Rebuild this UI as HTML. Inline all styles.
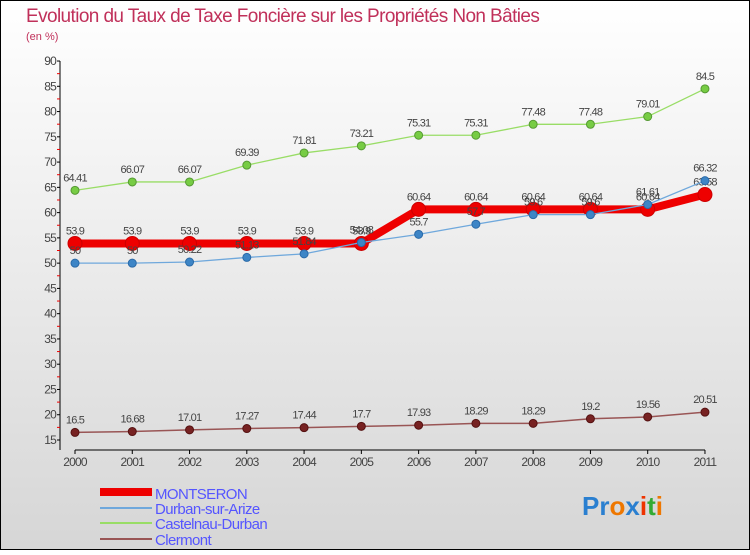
<!DOCTYPE html>
<html><head><meta charset="utf-8"><style>
html,body{margin:0;padding:0}
body{width:750px;height:550px;overflow:hidden;font-family:"Liberation Sans",sans-serif}
</style></head><body>
<svg width="750" height="550" xmlns="http://www.w3.org/2000/svg" id="svg">
<defs><linearGradient id="bg" x1="0" y1="0" x2="0" y2="1"><stop offset="0" stop-color="#ffffff"/><stop offset="1" stop-color="#d6d6d6"/></linearGradient></defs>
<rect x="0.5" y="0.5" width="749" height="549" fill="url(#bg)" stroke="#000"/>
<text x="26" y="22" font-size="19" fill="#c0305a" letter-spacing="-0.6">Evolution du Taux de Taxe Foncière sur les Propriétés Non Bâties</text>
<text x="26" y="40" font-size="11" fill="#c0305a">(en %)</text>
<g id="axes"></g>
<g id="series"></g>
<g id="legend">
<rect x="100" y="488" width="52" height="8" fill="#ee0000"/>
<text x="155" y="499" font-size="15" fill="#5555ff" letter-spacing="-0.6">MONTSERON</text>
<line x1="100" y1="508" x2="152" y2="508" stroke="#6fa8dc" stroke-width="2"/>
<text x="155" y="514" font-size="15" fill="#5555ff" letter-spacing="-0.6">Durban-sur-Arize</text>
<line x1="100" y1="523" x2="152" y2="523" stroke="#99dd66" stroke-width="2"/>
<text x="155" y="529" font-size="15" fill="#5555ff" letter-spacing="-0.6">Castelnau-Durban</text>
<line x1="100" y1="539" x2="152" y2="539" stroke="#955" stroke-width="2"/>
<text x="155" y="545" font-size="15" fill="#5555ff" letter-spacing="-0.6">Clermont</text>
</g>
<g font-size="26" font-weight="bold">
<text x="582" y="515"><tspan fill="#2a7fd0">Pr</tspan><tspan fill="#ee7700">o</tspan><tspan fill="#2a7fd0">x</tspan><tspan fill="#ee3300">i</tspan><tspan fill="#33aa33">t</tspan><tspan fill="#ee7700">i</tspan></text>
</g>
</svg>
<script>
const years=[2000,2001,2002,2003,2004,2005,2006,2007,2008,2009,2010,2011];
const montseron=[53.9,53.9,53.9,53.9,53.9,53.9,60.64,60.64,60.64,60.64,60.64,63.58];
const durban=[50,50,50.22,51.13,51.84,54.08,55.7,57.7,59.6,59.6,61.61,66.32];
const castelnau=[64.41,66.07,66.07,69.39,71.81,73.21,75.31,75.31,77.48,77.48,79.01,84.5];
const clermont=[16.5,16.68,17.01,17.27,17.44,17.7,17.93,18.29,18.29,19.2,19.56,20.51];
const yTicks=[15,20,25,30,35,40,45,50,55,60,65,70,75,80,85,90];
const NS="http://www.w3.org/2000/svg";
const X=i=>75+i*57.27;
const Y=v=>440-(v-15)*5.053;
function mk(tag,attrs,parent,txt){const e=document.createElementNS(NS,tag);for(const k in attrs)e.setAttribute(k,attrs[k]);if(txt!==undefined)e.textContent=txt;parent.appendChild(e);return e;}
const ax=document.getElementById('axes');
let l=mk('line',{x1:60,y1:Y(90),x2:60,y2:450,stroke:'#000'},ax);


l=mk('line',{x1:75,y1:450,x2:705,y2:450,stroke:'#000'},ax);


yTicks.forEach(v=>{
  mk('line',{x1:57,y1:Y(v),x2:60,y2:Y(v),stroke:'#000'},ax);
  if(v<90) mk('line',{x1:57,y1:Y(v+2.5),x2:60,y2:Y(v+2.5),stroke:'#e00'},ax);
  const t=mk('text',{x:56,y:Y(v)+4,'font-size':12,fill:'#444','text-anchor':'end','letter-spacing':'-0.8'},ax,String(v));
  
  
});
years.forEach((y,i)=>{
  mk('line',{x1:X(i),y1:450,x2:X(i),y2:454,stroke:'#000'},ax);
  const t=mk('text',{x:X(i),y:466,'font-size':12,fill:'#444','text-anchor':'middle','letter-spacing':'-0.8'},ax,String(y));
  
  
});
const sg=document.getElementById('series');
function series(name,vals,color,dot,w,r,stroke){
  const g=mk('g',{},sg);
  
  
  const p=mk('polyline',{points:vals.map((v,i)=>X(i)+','+Y(v)).join(' '),fill:'none',stroke:color,'stroke-width':w,'stroke-linejoin':'round'},g);
  
  
  vals.forEach((v,i)=>{
    const c=mk('circle',{cx:X(i),cy:Y(v),r:r,fill:dot,stroke:stroke,'stroke-width':1},g);
    
    
    const t=mk('text',{x:X(i),y:Y(v)-9,'font-size':11,fill:'#444','text-anchor':'middle','letter-spacing':'-0.8'},g,String(v));
    
    
  });
}
series('castelnau',castelnau,'#99dd66','#77cc44',1.3,4,'#559933');
series('clermont',clermont,'#995555','#772222',1.5,4,'#551111');
series('montseron',montseron,'#ee0000','#ee0000',8,7,'#cc0000');
series('durban',durban,'#6fa8dc','#3d85c6',1.3,4,'#2a6aa8');
</script>
</body></html>
